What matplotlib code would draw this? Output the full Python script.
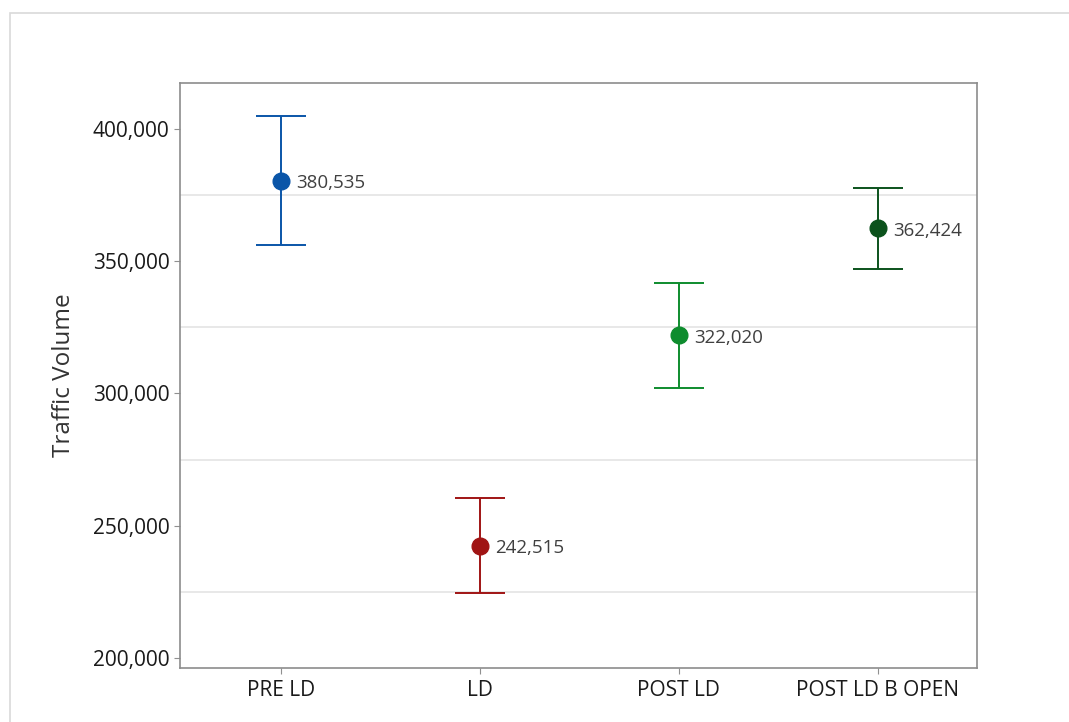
import matplotlib
matplotlib.use("Agg")
import matplotlib.pyplot as plt
from matplotlib.patches import Rectangle
from matplotlib.ticker import FuncFormatter

# interval plot data (mean with 95% CI)
groups = ["PRE LD", "LD", "POST LD", "POST LD B OPEN"]
means = [380535, 242515, 322020, 362424]
ci_low = [356300, 224500, 302200, 347200]
ci_high = [404800, 260500, 341800, 377600]
colors = ["#0a55a8", "#a01414", "#0e8c2e", "#0b521c"]

plt.rcParams["font.family"] = ["Open Sans", "DejaVu Sans"]

fig = plt.figure(figsize=(10.69, 7.22), dpi=100)
ax = fig.add_axes([0.1684, 0.0748, 0.7456, 0.8102])

# light frame around the whole graph like the Minitab export
fig.patches.append(Rectangle((10 / 1069, -0.1), 1.2, (722 - 13) / 722 + 0.1,
                             transform=fig.transFigure, fill=False,
                             edgecolor="#d9d9d9", linewidth=1.2))

for i, (m, lo, hi, c) in enumerate(zip(means, ci_low, ci_high, colors)):
    ax.errorbar(i, m, yerr=[[m - lo], [hi - m]], fmt="o", color=c,
                ecolor=c, elinewidth=1.4, capsize=18, capthick=1.4,
                markersize=12, zorder=3)
    ax.annotate(f"{m:,}", (i, m), xytext=(11, -2), textcoords="offset points",
                ha="left", va="center", fontsize=13.5, color="#404040")

ax.set_xlim(-0.51, 3.5)
ax.set_ylim(196200, 417400)
ax.set_xticks(range(len(groups)))
ax.set_xticklabels(groups)
ax.set_yticks([200000, 250000, 300000, 350000, 400000])
ax.set_yticks([225000, 275000, 325000, 375000], minor=True)
ax.yaxis.set_major_formatter(FuncFormatter(lambda v, p: f"{int(v):,}"))
ax.grid(which="minor", axis="y", color="#e2e2e2", linewidth=1.1)
ax.set_axisbelow(True)

ax.tick_params(axis="both", which="major", labelsize=15, length=4,
               color="#909090", labelcolor="#1a1a1a")
ax.tick_params(axis="y", which="minor", length=0)
ax.tick_params(axis="x", pad=5)
for s in ax.spines.values():
    s.set_color("#8c8c8c")
    s.set_linewidth(1.2)

ax.set_ylabel("Traffic Volume", fontsize=17.5, color="#333333", labelpad=12)

fig.savefig("out.png", dpi=100)
